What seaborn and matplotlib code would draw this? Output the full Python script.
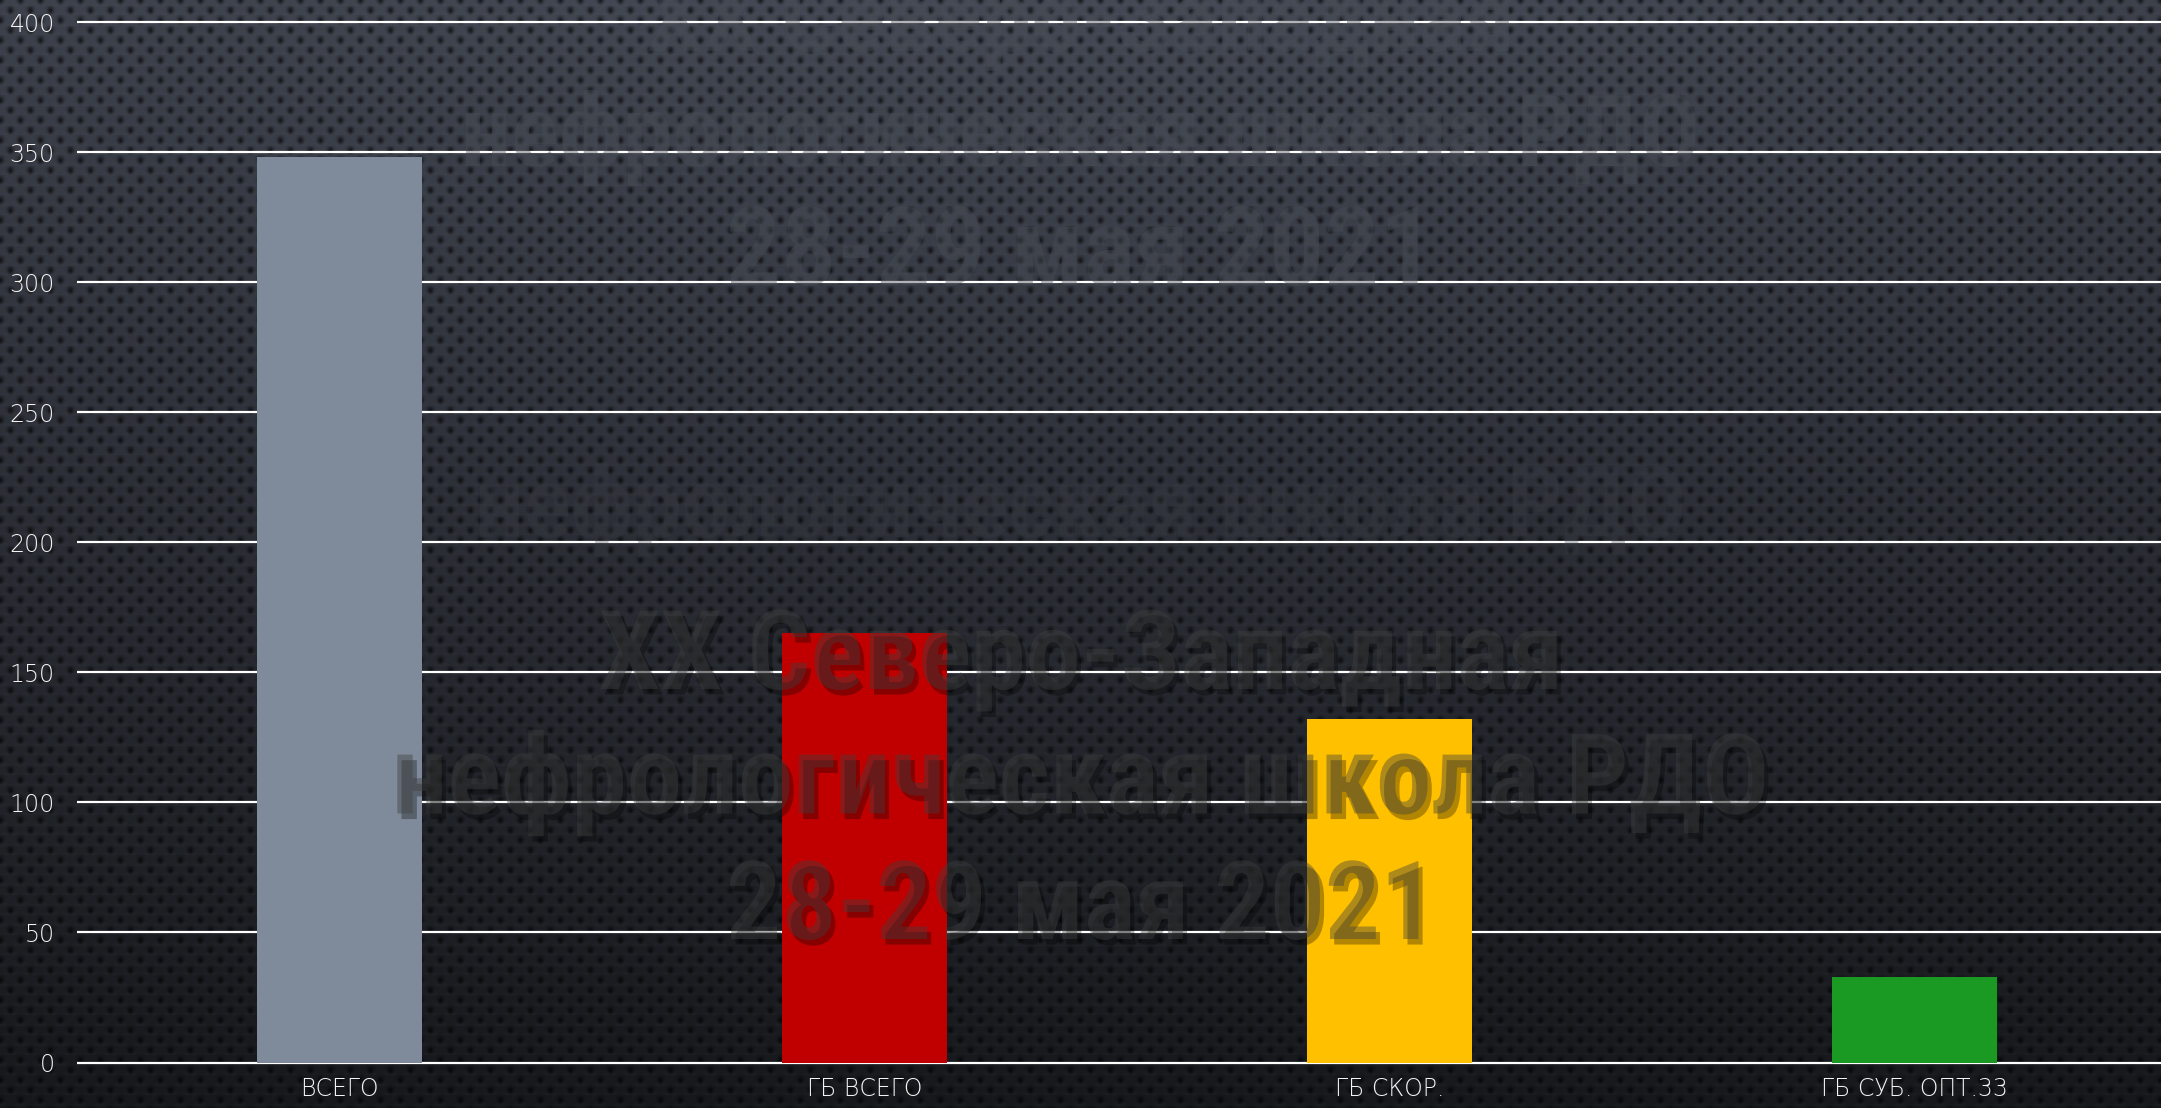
import numpy as np
import matplotlib
matplotlib.use("Agg")
import matplotlib.pyplot as plt
import matplotlib.patheffects as pe
from matplotlib import font_manager
import seaborn as sns

# data
categories = ["ВСЕГО", "ГБ ВСЕГО", "ГБ СКОР.", "ГБ СУБ. ОПТ.33"]
values = [348, 165, 132, 33]
bar_colors = ["#7F8A9B", "#C00000", "#FFC000", "#1A9A22"]
y_ticks = [0, 50, 100, 150, 200, 250, 300, 350, 400]
watermark = ["XX Северо-Западная", "нефрологическая школа РДО", "28-29 мая 2021"]

sns.set_theme(style="dark")
plt.rcParams["font.family"] = ["DejaVu Sans"]

# pick a narrow bold face for the watermark if one is installed
names = {f.name for f in font_manager.fontManager.ttflist}
wm_family = [n for n in ["Liberation Sans Narrow", "Roboto Condensed", "Open Sans Condensed",
                         "Roboto", "Noto Sans"] if n in names] + ["DejaVu Sans"]

W, H = 2161, 1108
fig = plt.figure(figsize=(W / 100, H / 100), dpi=100)

# perforated dark metal background
yy, xx = np.mgrid[0:H, 0:W].astype(float)
t = yy / H
base = np.zeros((H, W, 3))
top = np.array([58, 62, 72]) / 255
bot = np.array([22, 24, 28]) / 255
for c in range(3):
    base[..., c] = top[c] * (1 - t) + bot[c] * t
glow = np.exp(-(((xx - W * 0.5) / (W * 0.45)) ** 2 + (yy / (H * 0.5)) ** 2))
base *= (1 + 0.18 * glow)[..., None]
dx, dy = 20.0, 10.0
row = np.round(yy / dy)
off = (row % 2) * dx / 2
cx = np.round((xx - off) / dx) * dx + off
cy = row * dy
d2 = ((xx - cx) / 3.6) ** 2 + ((yy - cy) / 4.4) ** 2
hole = np.exp(-d2 * 1.2)
rim = np.exp(-(((xx - cx) / 4.5) ** 2 + ((yy - cy - 3.5) / 3.0) ** 2))
img = base * (1 - 0.6 * hole)[..., None] + 0.05 * rim[..., None] * (1 - hole)[..., None]
img = np.clip(img, 0, 1)

bg = fig.add_axes([0, 0, 1, 1], zorder=-5)
bg.imshow(img, aspect="auto", interpolation="nearest")
bg.axis("off")

# main chart
ppu = (1062.5 - 22) / 400
y0, y1 = -3, 406
ax_bottom = (H - (1062.5 + 3 * ppu)) / H
ax_top = (H - (22 - 6 * ppu)) / H
ax = fig.add_axes([77 / W, ax_bottom, (W - 77) / W, ax_top - ax_bottom])
ax.set_facecolor("none")
sns.barplot(x=categories, y=values, hue=categories, palette=bar_colors,
            legend=False, width=0.315, saturation=1, ax=ax, zorder=3,
            edgecolor="none", linewidth=0)
ax.set_xlim(-0.5, -0.5 + (W - 77) / 525)
ax.set_ylim(y0, y1)
ax.set_yticks(y_ticks)
ax.grid(axis="y", color="white", linewidth=1.6)
ax.grid(axis="x", visible=False)
ax.set_axisbelow(True)
for s in ax.spines.values():
    s.set_visible(False)
ax.tick_params(axis="y", length=0, pad=16, labelsize=17, labelcolor="#F4F4F4")
ax.tick_params(axis="x", length=0, pad=5, labelsize=17, labelcolor="#F4F4F4")
for lab in ax.get_xticklabels() + ax.get_yticklabels():
    lab.set_fontweight("light")
ax.set_xlabel("")
ax.set_ylabel("")

# slide title showing through as a watermark
renderer = fig.canvas.get_renderer()


def wm(txt, ycen, width, color, alpha, shadow):
    tt = fig.text(0.5, 1 - ycen / H, txt, ha="center", va="center",
                  family=wm_family, weight="bold",
                  fontsize=60, color=color, alpha=alpha, zorder=10)
    w = tt.get_window_extent(renderer).width
    tt.set_fontsize(60 * width / w)
    if shadow:
        tt.set_path_effects([pe.withSimplePatchShadow(offset=(3, -4), shadow_rgbFace="black", alpha=0.3)])
    return tt


# faint upper copy
wm(watermark[0], 24, 868, "#4a4e57", 0.42, False)
wm(watermark[1], 138, 1240, "#4a4e57", 0.42, False)
wm(watermark[2], 255, 710, "#4a4e57", 0.42, False)
wm(watermark[1], 510, 1213, "#3a3d44", 0.3, False)
# main copy
wm(watermark[0], 659, 965, "#404040", 0.42, True)
wm(watermark[1], 783, 1378, "#404040", 0.42, True)
wm(watermark[2], 909, 710, "#404040", 0.42, True)

fig.savefig("out.png", dpi=100)
